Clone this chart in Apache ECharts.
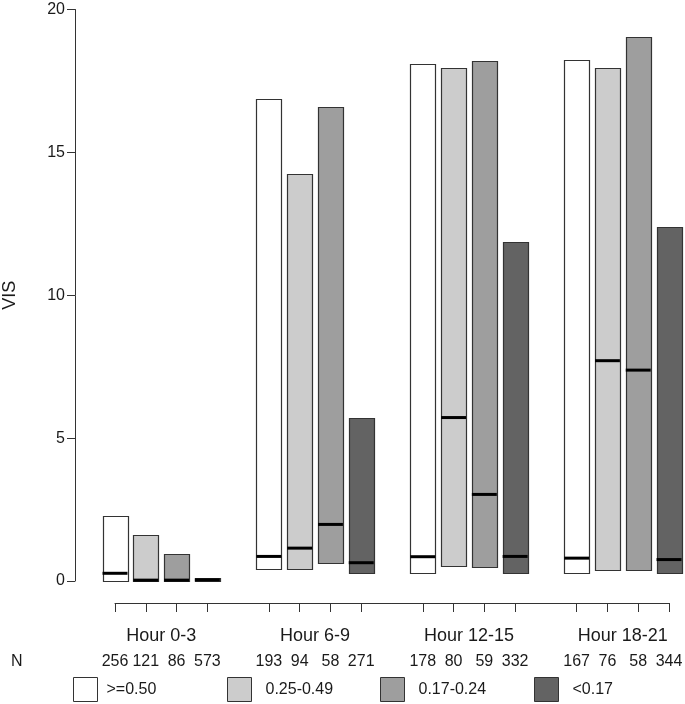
<!DOCTYPE html>
<html>
<head>
<meta charset="utf-8">
<script src="https://cdn.jsdelivr.net/npm/echarts@6/dist/echarts.min.js"></script>
<style>
html,body{margin:0;padding:0;background:#fff;}
#chart{width:685px;height:704px;}
</style>
</head>
<body>
<div id="chart"></div>
<script>
// ---- data ----
const groups = ['Hour 0-3', 'Hour 6-9', 'Hour 12-15', 'Hour 18-21'];
const classes = ['>=0.50', '0.25-0.49', '0.17-0.24', '<0.17'];
// per class, one value per group
const lowVals = [
  [0.0, 0.42, 0.29, 0.27],
  [0.0, 0.43, 0.52, 0.36],
  [0.0, 0.64, 0.49, 0.37],
  [0.0, 0.26, 0.27, 0.27]
];
const medianVals = [
  [0.27, 0.86, 0.85, 0.80],
  [0.03, 1.15, 5.72, 7.71],
  [0.03, 1.98, 3.03, 7.38],
  [0.04, 0.64, 0.86, 0.75]
];
const highVals = [
  [2.27, 16.87, 18.09, 18.22],
  [1.60, 14.24, 17.96, 17.94],
  [0.96, 16.59, 18.21, 19.03],
  [0.09, 5.70, 11.86, 12.39]
];
const nVals = [
  [256, 193, 178, 167],
  [121, 94, 80, 76],
  [86, 58, 59, 58],
  [573, 271, 332, 344]
];
const yTicks = [0, 5, 10, 15, 20];

// ---- styling ----
const fills = ['#ffffff', '#cccccc', '#9e9e9e', '#636363'];
const border = '#333333';
const font = 'Liberation Sans, Arial, Helvetica, sans-serif';

// position of each box on the x scale: groups separated by one empty slot
function pos(g, c) { return g * (classes.length + 1) + c + 1; }
const xMin = 1, xMax = pos(groups.length - 1, classes.length - 1);

const boxPositions = [];
const nByPos = {};
groups.forEach((g, gi) => classes.forEach((c, ci) => {
  const p = pos(gi, ci);
  boxPositions.push(p);
  nByPos[p] = nVals[ci][gi];
}));
const groupCenters = groups.map((g, gi) => (pos(gi, 0) + pos(gi, classes.length - 1)) / 2);
const groupByCenter = {};
groupCenters.forEach((v, i) => { groupByCenter[v.toFixed(2)] = groups[i]; });

const chart = echarts.init(document.getElementById('chart'), null, {renderer: 'canvas'});

const series = classes.map((name, ci) => ({
  name: name,
  type: 'custom',
  xAxisIndex: 0,
  yAxisIndex: 0,
  itemStyle: {color: fills[ci], borderColor: border, borderWidth: 1},
  data: groups.map((g, gi) => [pos(gi, ci), lowVals[ci][gi], medianVals[ci][gi], highVals[ci][gi]]),
  renderItem: function (params, api) {
    const x = api.value(0);
    const pLo = api.coord([x, api.value(1)]);
    const pMed = api.coord([x, api.value(2)]);
    const pHi = api.coord([x, api.value(3)]);
    const w = api.size([0.81, 0])[0];
    return {
      type: 'group',
      children: [
        {type: 'rect',
         shape: {x: Math.round(pLo[0] - w / 2) + 0.5, y: Math.round(pHi[1]) + 0.5, width: Math.round(w), height: Math.max(Math.round(pLo[1] - pHi[1]), 1)},
         style: {fill: fills[ci], stroke: border, lineWidth: 1.2}},
        {type: 'line',
         shape: {x1: pMed[0] - w / 2, y1: pMed[1], x2: pMed[0] + w / 2, y2: pMed[1]},
         style: {stroke: '#000', lineWidth: 3}}
      ]
    };
  }
}));

const legendLefts = [73, 227, 380, 534];
const legends = classes.map((c, i) => ({
  data: [c],
  left: legendLefts[i],
  top: 677,
  padding: 0,
  orient: 'horizontal',
  icon: 'rect',
  itemWidth: 24,
  itemHeight: 24,
  selectedMode: false,
  itemStyle: {borderColor: border, borderWidth: 1},
  textStyle: {fontSize: 16, fontFamily: font, color: '#1a1a1a', padding: [0, 0, 0, i === 0 ? 4 : 9]}
}));

const option = {
  backgroundColor: '#ffffff',
  animation: false,
  legend: legends,
  grid: [
    {left: 115, width: 554, top: 9.5, height: 571.5, outerBoundsMode: 'none', containLabel: false},
    {left: 115, width: 554, top: 602, height: 1, outerBoundsMode: 'none', containLabel: false},
    {left: 115, width: 554, top: 641, height: 1, outerBoundsMode: 'none', containLabel: false}
  ],
  xAxis: [
    {gridIndex: 0, type: 'value', min: xMin, max: xMax, show: false},
    {gridIndex: 1, type: 'value', min: xMin, max: xMax, position: 'bottom',
     axisLine: {show: true, lineStyle: {color: border, width: 1}},
     axisTick: {show: true, customValues: boxPositions, length: 9, lineStyle: {color: border, width: 1}},
     axisLabel: {show: true, customValues: groupCenters, margin: 24, fontSize: 18, fontFamily: font, color: '#1a1a1a',
       formatter: v => groupByCenter[Number(v).toFixed(2)] || ''},
     splitLine: {show: false}},
    {gridIndex: 2, type: 'value', min: xMin, max: xMax, position: 'bottom',
     axisLine: {show: false}, axisTick: {show: false},
     axisLabel: {show: true, customValues: boxPositions, margin: 12, fontSize: 16, fontFamily: font, color: '#1a1a1a',
       formatter: v => String(nByPos[Math.round(v)] ?? '')},
     splitLine: {show: false}}
  ],
  yAxis: [
    {gridIndex: 0, type: 'value', min: yTicks[0], max: yTicks[yTicks.length - 1], interval: yTicks[1] - yTicks[0],
     offset: 40,
     name: 'VIS', nameLocation: 'middle', nameGap: 56, nameRotate: 90,
     nameTextStyle: {fontSize: 18, fontFamily: font, color: '#1a1a1a'},
     axisLine: {show: true, lineStyle: {color: border, width: 1}},
     axisTick: {show: true, length: 8, lineStyle: {color: border, width: 1}},
     axisLabel: {fontSize: 16, fontFamily: font, color: '#1a1a1a', margin: 10},
     splitLine: {show: false}},
    {gridIndex: 1, type: 'value', show: false},
    {gridIndex: 2, type: 'value', show: false}
  ],
  graphic: [
    {type: 'text', left: 11, top: 654, style: {text: 'N', fontSize: 16, fontFamily: font, fill: '#1a1a1a'}}
  ],
  series: series
};
chart.setOption(option);
</script>
</body>
</html>
